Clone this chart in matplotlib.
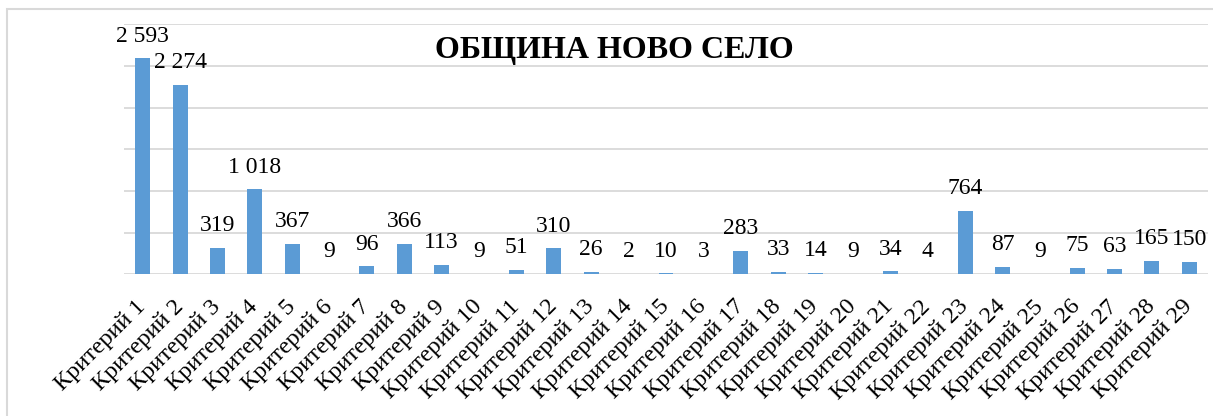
import matplotlib
matplotlib.use("Agg")
import matplotlib.pyplot as plt
from matplotlib.patches import Rectangle

# данные
categories = ["Критерий %d" % i for i in range(1, 30)]
values = [2593, 2274, 319, 1018, 367, 9, 96, 366, 113, 9, 51, 310, 26, 2, 10,
          3, 283, 33, 14, 9, 34, 4, 764, 87, 9, 75, 63, 165, 150]
title = "ОБЩИНА НОВО СЕЛО"


def fmt(v):  # разделитель тысяч - пробел
    return "{:,}".format(v).replace(",", " ")


plt.rcParams['font.family'] = ['Liberation Serif', 'DejaVu Serif']

W, H = 1213, 416
fig = plt.figure(figsize=(W / 100, H / 100), dpi=100)

# рамка диаграммы
fig.patches.append(Rectangle((7 / W, -0.1), 1.2, 1 - 9 / H + 0.1, transform=fig.transFigure,
                             fill=False, edgecolor='#D9D9D9', linewidth=1.5))

ax = fig.add_axes([124 / W, (H - 274.3) / H, (1208 - 124) / W, 250 / H])
x = range(len(categories))
bars = ax.bar(x, values, width=0.4, color='#5B9BD5', zorder=3)

ax.set_ylim(0, 3000)
ax.set_xlim(-0.5, len(categories) - 0.5)
ax.set_yticks(range(0, 3001, 500))
ax.yaxis.grid(True, color='#D9D9D9', linewidth=1.3, zorder=0)
ax.tick_params(axis='y', left=False, labelleft=False)
ax.tick_params(axis='x', length=0, pad=21)
for s in ax.spines.values():
    s.set_visible(False)

ax.set_xticks(list(x))
ax.set_xticklabels(categories, rotation=45, ha='right', va='center',
                   rotation_mode='anchor', fontsize=17.5)

for xi, v in zip(x, values):
    ax.annotate(fmt(v), (xi, v), xytext=(0, 12), textcoords='offset points',
                ha='center', va='baseline', fontsize=17)

fig.text(614 / W, 1 - 58 / H, title, ha='center', va='baseline',
         fontsize=23, fontweight='bold')

fig.savefig('out.png', dpi=100)
